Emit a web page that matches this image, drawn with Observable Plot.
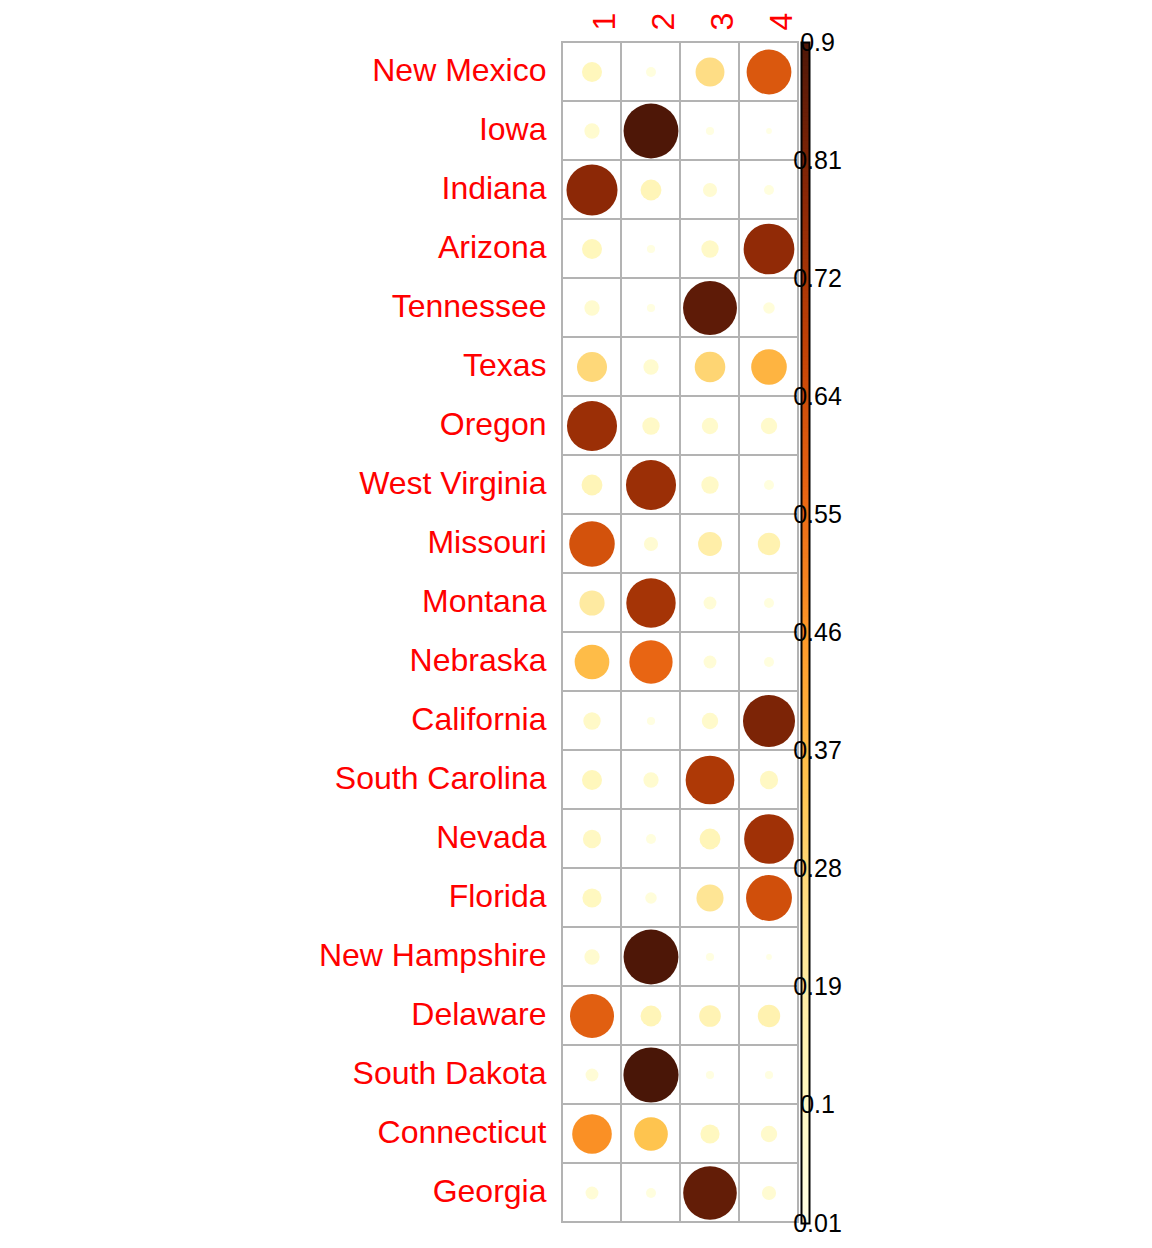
<!DOCTYPE html>
<html><head><meta charset="utf-8">
<script src="https://cdn.jsdelivr.net/npm/d3@7"></script>
<script src="https://cdn.jsdelivr.net/npm/@observablehq/plot@0.6"></script>
<style>
html,body{margin:0;padding:0;background:#fff;}
#chart{position:relative;width:1152px;height:1248px;background:#fff;}
#chart svg{position:absolute;left:0;top:0;}
</style></head><body><div id="chart"></div>
<script>
const states = ["New Mexico","Iowa","Indiana","Arizona","Tennessee","Texas","Oregon","West Virginia","Missouri","Montana","Nebraska","California","South Carolina","Nevada","Florida","New Hampshire","Delaware","South Dakota","Connecticut","Georgia"];
const clusters = ["1","2","3","4"];
const v1 = [0.12,0.07,0.78,0.12,0.07,0.27,0.75,0.13,0.62,0.19,0.36,0.09,0.12,0.10,0.11,0.07,0.58,0.05,0.47,0.05];
const v2 = [0.03,0.90,0.13,0.02,0.02,0.07,0.09,0.75,0.06,0.73,0.56,0.02,0.07,0.03,0.04,0.90,0.13,0.91,0.34,0.03];
const v3 = [0.25,0.02,0.06,0.09,0.87,0.28,0.08,0.09,0.17,0.05,0.05,0.08,0.71,0.13,0.22,0.02,0.14,0.02,0.11,0.86];
const v4 = [0.60,0.01,0.03,0.77,0.04,0.38,0.08,0.03,0.15,0.03,0.03,0.81,0.10,0.74,0.63,0.01,0.15,0.02,0.08,0.06];
const legendTicks = ["0.01","0.1","0.19","0.28","0.37","0.46","0.55","0.64","0.72","0.81","0.9"];
const legendMin = 0.01, legendMax = 0.9;
const colorStops = [0.01,0.12,0.23,0.34,0.45,0.56,0.67,0.78,0.9];
const colorRamp = ["#FFFFE5","#FFF7BC","#FEE391","#FEC44F","#FE9929","#E86513","#C24206","#8C2806","#4E1707"];

const cols = [v1,v2,v3,v4];
const cells = states.flatMap((s,i)=>clusters.map((c,j)=>({state:s, cluster:c, value:cols[j][i]})));
const colorScale = {type:"linear", domain:colorStops, range:colorRamp, interpolate:"rgb"};
const font = "'Liberation Sans', Arial, Helvetica, sans-serif";

const main = Plot.plot({
  width:1152, height:1248,
  marginLeft:562, marginRight:354, marginTop:41, marginBottom:25,
  style:{fontFamily:font, background:"white"},
  x:{domain:clusters, padding:0, axis:null},
  y:{domain:states, padding:0},
  r:{type:"sqrt", domain:[0,1], range:[0,28.9]},
  color: colorScale,
  marks:[
    Plot.cell(cells,{x:"cluster",y:"state",fill:"white",stroke:"#b3b3b3",strokeWidth:2,inset:0}),
    Plot.dot(cells,{x:"cluster",y:"state",r:"value",fill:"value",stroke:null}),
    Plot.axisY({tickSize:0,tickPadding:16,fontSize:32,color:"red",fill:"red",label:null,dy:-1}),
    Plot.text(clusters,{x:d=>d, frameAnchor:"top", dy:-11, rotate:-90, textAnchor:"start", fill:"red", fontSize:32})
  ]
});

const legendN = 300;
const bins = d3.range(legendN).map(i=>{
  const a = legendMin+(legendMax-legendMin)*i/legendN, b = legendMin+(legendMax-legendMin)*(i+1)/legendN;
  return {y1:a, y2:Math.min(legendMax,b+0.002), mid:(a+b)/2};
});
const legendLabels = legendTicks.map((t,i)=>({text:t, pos:legendMin+(legendMax-legendMin)*i/(legendTicks.length-1)}));
const legend = Plot.plot({
  width:1152, height:1248,
  marginLeft:801, marginRight:343, marginTop:42, marginBottom:25,
  style:{fontFamily:font, background:"transparent"},
  x:{domain:[0,1], axis:null},
  y:{domain:[legendMin,legendMax], axis:null},
  color: colorScale,
  marks:[
    Plot.rect(bins,{x1:0,x2:1,y1:"y1",y2:"y2",fill:"mid",inset:0}),
    Plot.frame({stroke:"black", strokeWidth:2}),
    Plot.text(legendLabels,{y:"pos", frameAnchor:"left", dx:16, text:"text", fontSize:25, fill:"black", textAnchor:"middle"})
  ]
});
const el = document.getElementById("chart");
el.appendChild(main);
el.appendChild(legend);
</script></body></html>
